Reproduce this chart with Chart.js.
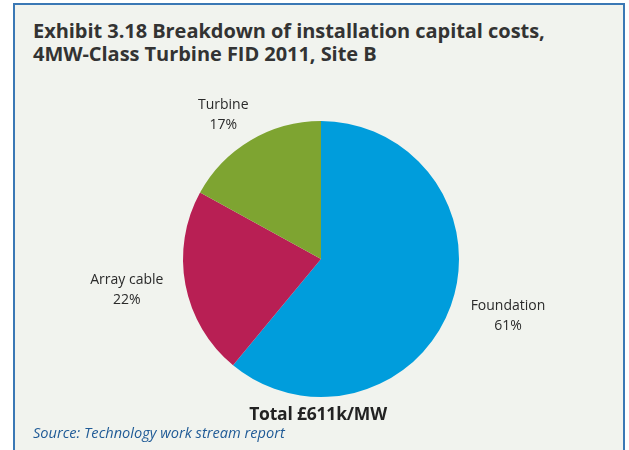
<!DOCTYPE html>
<html>
<head>
<meta charset="utf-8">
<script src="https://cdn.jsdelivr.net/npm/chart.js@4"></script>
<style>
  html, body { margin: 0; padding: 0; background: #fff; }
  #wrap { position: relative; width: 629px; height: 450px; overflow: hidden; }
  #panel {
    position: absolute; left: 13px; top: 3px; width: 608px; height: 460px;
    background: #f1f3ee; border: 2px solid #3a78b5;
  }
  #title {
    position: absolute; left: 33px; top: 19px; margin: 0;
    font: bold 20px "Open Sans", sans-serif; line-height: 23px; color: #333;
    letter-spacing: -0.05px;
  }
  #total {
    position: absolute; left: 0; width: 636px; top: 401px; text-align: center;
    font: bold 17.5px "Open Sans", sans-serif; color: #222; letter-spacing: -0.2px;
  }
  #source {
    position: absolute; left: 33px; top: 422px;
    font: italic 14.6px "Open Sans", sans-serif; color: #1f5a96;
  }
  #chart { position: absolute; left: 0; top: 0; }
</style>
</head>
<body>
<div id="wrap">
  <div id="panel"></div>
  <h1 id="title">Exhibit 3.18 Breakdown of installation capital costs,<br>4MW-Class Turbine FID 2011, Site B</h1>
  <canvas id="chart" width="629" height="450"></canvas>
  <div id="total">Total £611k/MW</div>
  <div id="source">Source: Technology work stream report</div>
</div>
<script>
const categories = ['Foundation', 'Array cable', 'Turbine'];
const shares = [61, 22, 17];
const colours = ['#009ddc', '#b81f54', '#7ea431'];

// slice names + percentages just outside each wedge
const outsideLabels = {
  id: 'outsideLabels',
  afterDatasetsDraw(chart) {
    const { ctx } = chart;
    const arcs = chart.getDatasetMeta(0).data;
    ctx.save();
    ctx.font = '14px "Open Sans", sans-serif';
    ctx.fillStyle = '#2a2a2a';
    ctx.textAlign = 'center';
    ctx.textBaseline = 'middle';
    arcs.forEach((arc, i) => {
      const mid = (arc.startAngle + arc.endAngle) / 2;
      const dist = arc.outerRadius + 17;
      const lines = [categories[i], shares[i] + '%'];
      const w = Math.max(...lines.map(t => ctx.measureText(t).width));
      const h = 24;
      const cx = arc.x + Math.cos(mid) * (dist + w / 2) + Math.sign(Math.cos(mid)) * 6;
      const cy = arc.y + Math.sin(mid) * (dist + h / 2);
      ctx.fillText(lines[0], cx, cy - 10);
      ctx.fillText(lines[1], cx, cy + 10);
    });
    ctx.restore();
  }
};

new Chart(document.getElementById('chart'), {
  type: 'pie',
  data: {
    labels: categories,
    datasets: [{ data: shares, backgroundColor: colours, borderWidth: 0 }]
  },
  options: {
    responsive: false,
    animation: false,
    layout: { padding: { top: 121, bottom: 53, left: 100, right: 87 } },
    plugins: { legend: { display: false }, tooltip: { enabled: false } }
  },
  plugins: [outsideLabels]
});
</script>
</body>
</html>
